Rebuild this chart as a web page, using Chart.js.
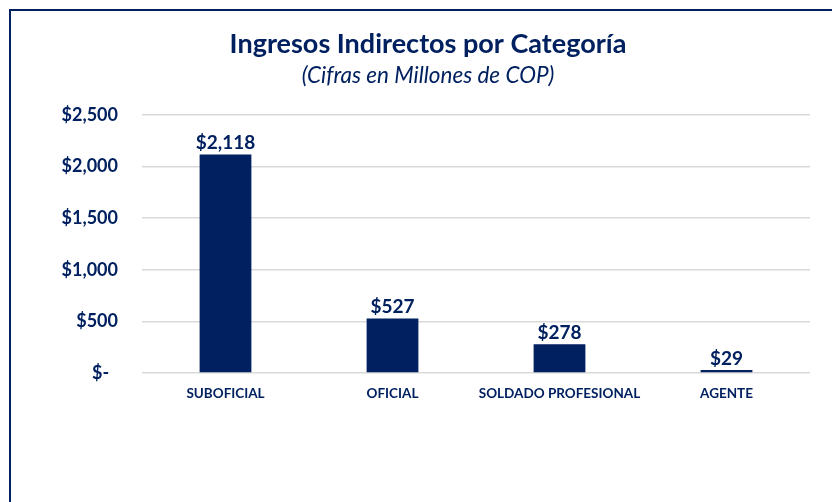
<!DOCTYPE html>
<html>
<head>
<meta charset="utf-8">
<script src="https://cdn.jsdelivr.net/npm/chart.js@4"></script>
<style>
  html, body { margin: 0; padding: 0; background: #fff; overflow: hidden; }
  #frame {
    position: absolute; left: 9px; top: 9px;
    width: 860px; height: 540px;
    border: 2px solid #002060;
  }
  #chart { position: absolute; left: 0; top: 0; }
</style>
</head>
<body>
<div id="frame"><canvas id="chart" width="821" height="491"></canvas></div>
<script>
// Data
const categories = ["SUBOFICIAL", "OFICIAL", "SOLDADO PROFESIONAL", "AGENTE"];
const ingresos = [2118, 527, 278, 29];
const yTicks = [0, 500, 1000, 1500, 2000, 2500];

const navy = '#002060';
const fontFamily = 'Lato, "Open Sans", sans-serif';

const money = v => v === 0 ? '$-  ' : '$' + v.toLocaleString('en-US');

// simple value labels above each bar
const barLabels = {
  id: 'barLabels',
  afterDatasetsDraw(chart) {
    const ctx = chart.ctx;
    const meta = chart.getDatasetMeta(0);
    ctx.save();
    ctx.font = 'bold 19px ' + fontFamily;
    ctx.fillStyle = navy;
    ctx.textAlign = 'center';
    ctx.textBaseline = 'bottom';
    meta.data.forEach((bar, i) => {
      ctx.fillText(money(ingresos[i]), bar.x, bar.y - 2);
    });
    ctx.restore();
  }
};

const ctx = document.getElementById('chart').getContext('2d');
const chart = new Chart(ctx, {
  type: 'bar',
  data: {
    labels: categories,
    datasets: [{
      data: ingresos,
      backgroundColor: navy,
      barPercentage: 0.31,
      categoryPercentage: 1
    }]
  },
  options: {
    responsive: false,
    animation: false,
    layout: { padding: { top: 0, right: 22, bottom: 0, left: 35 } },
    plugins: {
      legend: { display: false },
      tooltip: { enabled: false },
      title: {
        display: true,
        text: 'Ingresos Indirectos por Categoría',
        color: navy,
        font: { family: fontFamily, size: 27, weight: 'bold' },
        padding: { top: 17, bottom: 2 }
      },
      subtitle: {
        display: true,
        text: '(Cifras en Millones de COP)',
        color: navy,
        font: { family: fontFamily, size: 22.5, style: 'italic' },
        padding: { top: 0, bottom: 25.6 }
      }
    },
    scales: {
      x: {
        grid: { display: false, drawTicks: false },
        border: { display: false },
        ticks: {
          color: navy,
          padding: 13,
          maxRotation: 0,
          minRotation: 0,
          autoSkip: false,
          font: { family: fontFamily, size: 13.5, weight: 'bold' }
        },
        afterFit: s => { s.height = 129; }
      },
      y: {
        min: 0,
        max: 2500,
        afterBuildTicks: s => { s.ticks = yTicks.map(v => ({ value: v })); },
        grid: { color: '#d9d9d9', lineWidth: 1.5, drawTicks: false },
        border: { display: false },
        ticks: {
          color: navy,
          padding: 24,
          font: { family: fontFamily, size: 18, weight: 'bold' },
          callback: v => money(v)
        },
        afterFit: s => { s.width = 96; }
      }
    }
  },
  plugins: [barLabels]
});
</script>
</body>
</html>
